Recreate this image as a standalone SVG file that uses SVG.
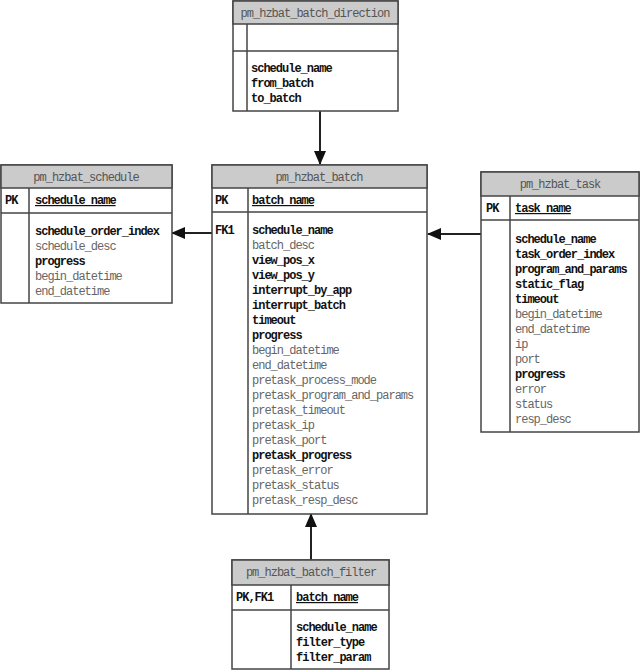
<svg xmlns="http://www.w3.org/2000/svg" width="640" height="671" viewBox="0 0 640 671">
<style>
text{font-family:"Liberation Mono","DejaVu Sans Mono",monospace;font-size:12px;letter-spacing:-1px}
.b{font-weight:bold;fill:#111}
.n{fill:#666}
.h{fill:#555;text-anchor:middle}
.u{text-decoration:underline}
.box{fill:#fff;stroke:#444;stroke-width:1.5}
.hd{fill:#cbcbcb;stroke:#444;stroke-width:1.5}
.ln{stroke:#444;stroke-width:1.5;fill:none}
.cn{stroke:#222;stroke-width:2;fill:none}
</style>
<defs>
<marker id="ah" markerWidth="14" markerHeight="12" refX="13" refY="6" orient="auto" markerUnits="userSpaceOnUse">
<path d="M0,0 L14,6 L0,12 Z" fill="#111"/>
</marker>
</defs>
<g id="connectors">
<line class="cn" x1="320" y1="111" x2="320" y2="164" marker-end="url(#ah)"/>
<line class="cn" x1="212" y1="233" x2="172" y2="233" marker-end="url(#ah)"/>
<line class="cn" x1="481" y1="234" x2="428" y2="234" marker-end="url(#ah)"/>
<line class="cn" x1="311" y1="560" x2="311" y2="514" marker-end="url(#ah)"/>
</g>
<g id="pm_hzbat_batch_direction">
<rect class="box" x="233" y="1" width="165" height="110"/>
<rect class="hd" x="233" y="1" width="165" height="23"/>
<line class="ln" x1="233" y1="51" x2="398" y2="51"/>
<line class="ln" x1="247" y1="24" x2="247" y2="111"/>
<text class="h" x="315" y="17">pm_hzbat_batch_direction</text>
<text class="b" x="251" y="72">schedule_name</text>
<text class="b" x="251" y="87">from_batch</text>
<text class="b" x="251" y="102">to_batch</text>
</g>
<g id="pm_hzbat_schedule">
<rect class="box" x="1" y="165" width="171" height="138"/>
<rect class="hd" x="1" y="165" width="171" height="23"/>
<line class="ln" x1="1" y1="213" x2="172" y2="213"/>
<line class="ln" x1="29" y1="188" x2="29" y2="303"/>
<text class="h" x="86" y="181">pm_hzbat_schedule</text>
<text class="b" x="5" y="204">PK</text>
<text class="b u" x="35" y="204">schedule_name</text>
<text class="b" x="35" y="235">schedule_order_index</text>
<text class="n" x="35" y="250">schedule_desc</text>
<text class="b" x="35" y="265">progress</text>
<text class="n" x="35" y="280">begin_datetime</text>
<text class="n" x="35" y="295">end_datetime</text>
</g>
<g id="pm_hzbat_batch">
<rect class="box" x="212" y="165" width="215" height="349"/>
<rect class="hd" x="212" y="165" width="215" height="23"/>
<line class="ln" x1="212" y1="212" x2="427" y2="212"/>
<line class="ln" x1="248" y1="188" x2="248" y2="514"/>
<text class="h" x="319" y="181">pm_hzbat_batch</text>
<text class="b" x="215" y="204">PK</text>
<text class="b u" x="252" y="204">batch_name</text>
<text class="b" x="215" y="234">FK1</text>
<text class="b" x="252" y="234">schedule_name</text>
<text class="n" x="252" y="249">batch_desc</text>
<text class="b" x="252" y="264">view_pos_x</text>
<text class="b" x="252" y="279">view_pos_y</text>
<text class="b" x="252" y="294">interrupt_by_app</text>
<text class="b" x="252" y="309">interrupt_batch</text>
<text class="b" x="252" y="324">timeout</text>
<text class="b" x="252" y="339">progress</text>
<text class="n" x="252" y="354">begin_datetime</text>
<text class="n" x="252" y="369">end_datetime</text>
<text class="n" x="252" y="384">pretask_process_mode</text>
<text class="n" x="252" y="399">pretask_program_and_params</text>
<text class="n" x="252" y="414">pretask_timeout</text>
<text class="n" x="252" y="429">pretask_ip</text>
<text class="n" x="252" y="444">pretask_port</text>
<text class="b" x="252" y="459">pretask_progress</text>
<text class="n" x="252" y="474">pretask_error</text>
<text class="n" x="252" y="489">pretask_status</text>
<text class="n" x="252" y="504">pretask_resp_desc</text>
</g>
<g id="pm_hzbat_task">
<rect class="box" x="481" y="172" width="158" height="260"/>
<rect class="hd" x="481" y="172" width="158" height="24"/>
<line class="ln" x1="481" y1="220" x2="639" y2="220"/>
<line class="ln" x1="510" y1="196" x2="510" y2="432"/>
<text class="h" x="560" y="188">pm_hzbat_task</text>
<text class="b" x="486" y="212">PK</text>
<text class="b u" x="515" y="212">task_name</text>
<text class="b" x="515" y="243">schedule_name</text>
<text class="b" x="515" y="258">task_order_index</text>
<text class="b" x="515" y="273">program_and_params</text>
<text class="b" x="515" y="288">static_flag</text>
<text class="b" x="515" y="303">timeout</text>
<text class="n" x="515" y="318">begin_datetime</text>
<text class="n" x="515" y="333">end_datetime</text>
<text class="n" x="515" y="348">ip</text>
<text class="n" x="515" y="363">port</text>
<text class="b" x="515" y="378">progress</text>
<text class="n" x="515" y="393">error</text>
<text class="n" x="515" y="408">status</text>
<text class="n" x="515" y="423">resp_desc</text>
</g>
<g id="pm_hzbat_batch_filter">
<rect class="box" x="232" y="560" width="157" height="109"/>
<rect class="hd" x="232" y="560" width="157" height="25"/>
<line class="ln" x1="232" y1="610" x2="389" y2="610"/>
<line class="ln" x1="291" y1="585" x2="291" y2="669"/>
<text class="h" x="311" y="576">pm_hzbat_batch_filter</text>
<text class="b" x="236" y="601">PK,FK1</text>
<text class="b u" x="296" y="601">batch_name</text>
<text class="b" x="296" y="631">schedule_name</text>
<text class="b" x="296" y="646">filter_type</text>
<text class="b" x="296" y="661">filter_param</text>
</g>
</svg>
